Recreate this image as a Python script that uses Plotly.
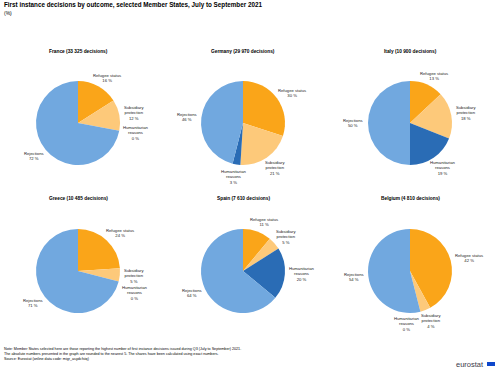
import math
import plotly.graph_objects as go

# ---- data ----
countries = ["France", "Germany", "Italy", "Greece", "Spain", "Belgium"]
decisions = ["33 325", "29 970", "10 900", "10 485", "7 610", "4 810"]
outcomes = ["Refugee status", "Subsidiary protection", "Humanitarian reasons", "Rejections"]
outcome_labels = ["Refugee status", "Subsidiary<br>protection", "Humanitarian<br>reasons", "Rejections"]
refugee = [16, 30, 13, 24, 11, 42]
subsidiary = [12, 21, 18, 5, 5, 4]
humanitarian = [0, 3, 19, 0, 20, 0]
rejections = [72, 46, 50, 71, 64, 54]

colors = ["#FAA519", "#FDC97A", "#2A6CB5", "#71A8DF"]

W, H = 500, 372
FONT = "Liberation Sans, Arial, sans-serif"

# layout geometry (pixels)
col_x = [78, 243, 410]
row_y = [123, 271]
title_y = [52, 198]
R = 42

fig = go.Figure()
annotations = []

def px(x):
    return x / W

def py(y):
    return 1 - y / H

for i, c in enumerate(countries):
    cx = col_x[i % 3]
    cy = row_y[i // 3]
    vals = [refugee[i], subsidiary[i], humanitarian[i], rejections[i]]
    fig.add_trace(go.Pie(
        values=vals,
        labels=outcomes,
        sort=False,
        direction="clockwise",
        rotation=0,
        textinfo="none",
        marker=dict(colors=colors, line=dict(width=0)),
        domain=dict(x=[px(cx - R), px(cx + R)], y=[py(cy + R), py(cy - R)]),
        showlegend=False,
        hoverinfo="label+percent",
    ))
    annotations.append(dict(
        x=px(cx), y=py(title_y[i // 3]), xref="paper", yref="paper",
        text=f"<b>{c} ({decisions[i]} decisions)</b>", showarrow=False,
        font=dict(size=4.8, color="#000", family=FONT), xanchor="center", yanchor="middle",
    ))
    # slice labels, placed just outside each slice, with simple collision handling
    total = sum(vals)
    cum = 0
    boxes = []
    for j, v in enumerate(vals):
        mid = (cum + v / 2) / total
        cum += v
        th = 2 * math.pi * mid
        s, co = math.sin(th), math.cos(th)
        txt = f"{outcome_labels[j]}<br>{v} %"
        lines = txt.split("<br>")
        w = max(len(l) for l in lines) * 2.1
        h = len(lines) * 5.4
        X = cx + 1.1 * R * s + w / 2 * s
        Y = cy - 1.1 * R * co - h / 2 * co
        if boxes:
            pX, pY, pw, ph = boxes[-1]
            if abs(X - pX) < (w + pw) / 2 and abs(Y - pY) < (h + ph) / 2:
                if abs(s) > abs(co):
                    if s > 0:
                        Y = pY + ph / 2 + 1 + h / 2
                    else:
                        Y = pY - ph / 2 - 1 - h / 2
                else:
                    if co < 0:
                        X = pX - pw / 2 - 1 - w / 2
                    else:
                        X = pX + pw / 2 + 1 + w / 2
        boxes.append((X, Y, w, h))
        annotations.append(dict(
            x=px(X), y=py(Y), xref="paper", yref="paper", text=txt,
            showarrow=False, align="center", xanchor="center", yanchor="middle",
            font=dict(size=4.2, color="#222", family=FONT),
        ))

annotations.append(dict(
    x=px(2), y=py(5), xref="paper", yref="paper", xanchor="left", yanchor="middle",
    text="<b>First instance decisions by outcome, selected Member States, July to September 2021</b>",
    showarrow=False, font=dict(size=6.3, color="#000", family=FONT),
))
annotations.append(dict(
    x=px(2), y=py(13.5), xref="paper", yref="paper", xanchor="left", yanchor="middle",
    text="(%)", showarrow=False, font=dict(size=5, color="#000", family=FONT),
))

notes = [
    "Note: Member States selected here are those reporting the highest number of first instance decisions issued during Q3 (July to September) 2021.",
    "The absolute numbers presented in the graph are rounded to the nearest 5. The shares have been calculated using exact numbers.",
    "Source: Eurostat (online data code: migr_asydcfstq)",
]
for k, n in enumerate(notes):
    annotations.append(dict(
        x=px(2), y=py(349 + 5 * k), xref="paper", yref="paper", xanchor="left", yanchor="middle",
        text=n, showarrow=False, font=dict(size=3.7, color="#000", family=FONT),
    ))

annotations.append(dict(
    x=px(486), y=py(364), xref="paper", yref="paper", xanchor="right", yanchor="middle",
    text="eurostat", showarrow=False, font=dict(size=7.5, color="#3a3a4a", family=FONT),
))

fig.update_layout(
    width=W, height=H,
    margin=dict(l=0, r=0, t=0, b=0),
    paper_bgcolor="white", plot_bgcolor="white",
    annotations=annotations,
    shapes=[dict(type="rect", xref="paper", yref="paper",
                 x0=px(487), x1=px(495), y0=py(366), y1=py(362),
                 fillcolor="#0E47CB", line=dict(width=0))],
)

fig.write_html("out.html", config={"displayModeBar": False},
               post_script="document.body.style.margin='0';document.body.style.overflow='hidden';")
